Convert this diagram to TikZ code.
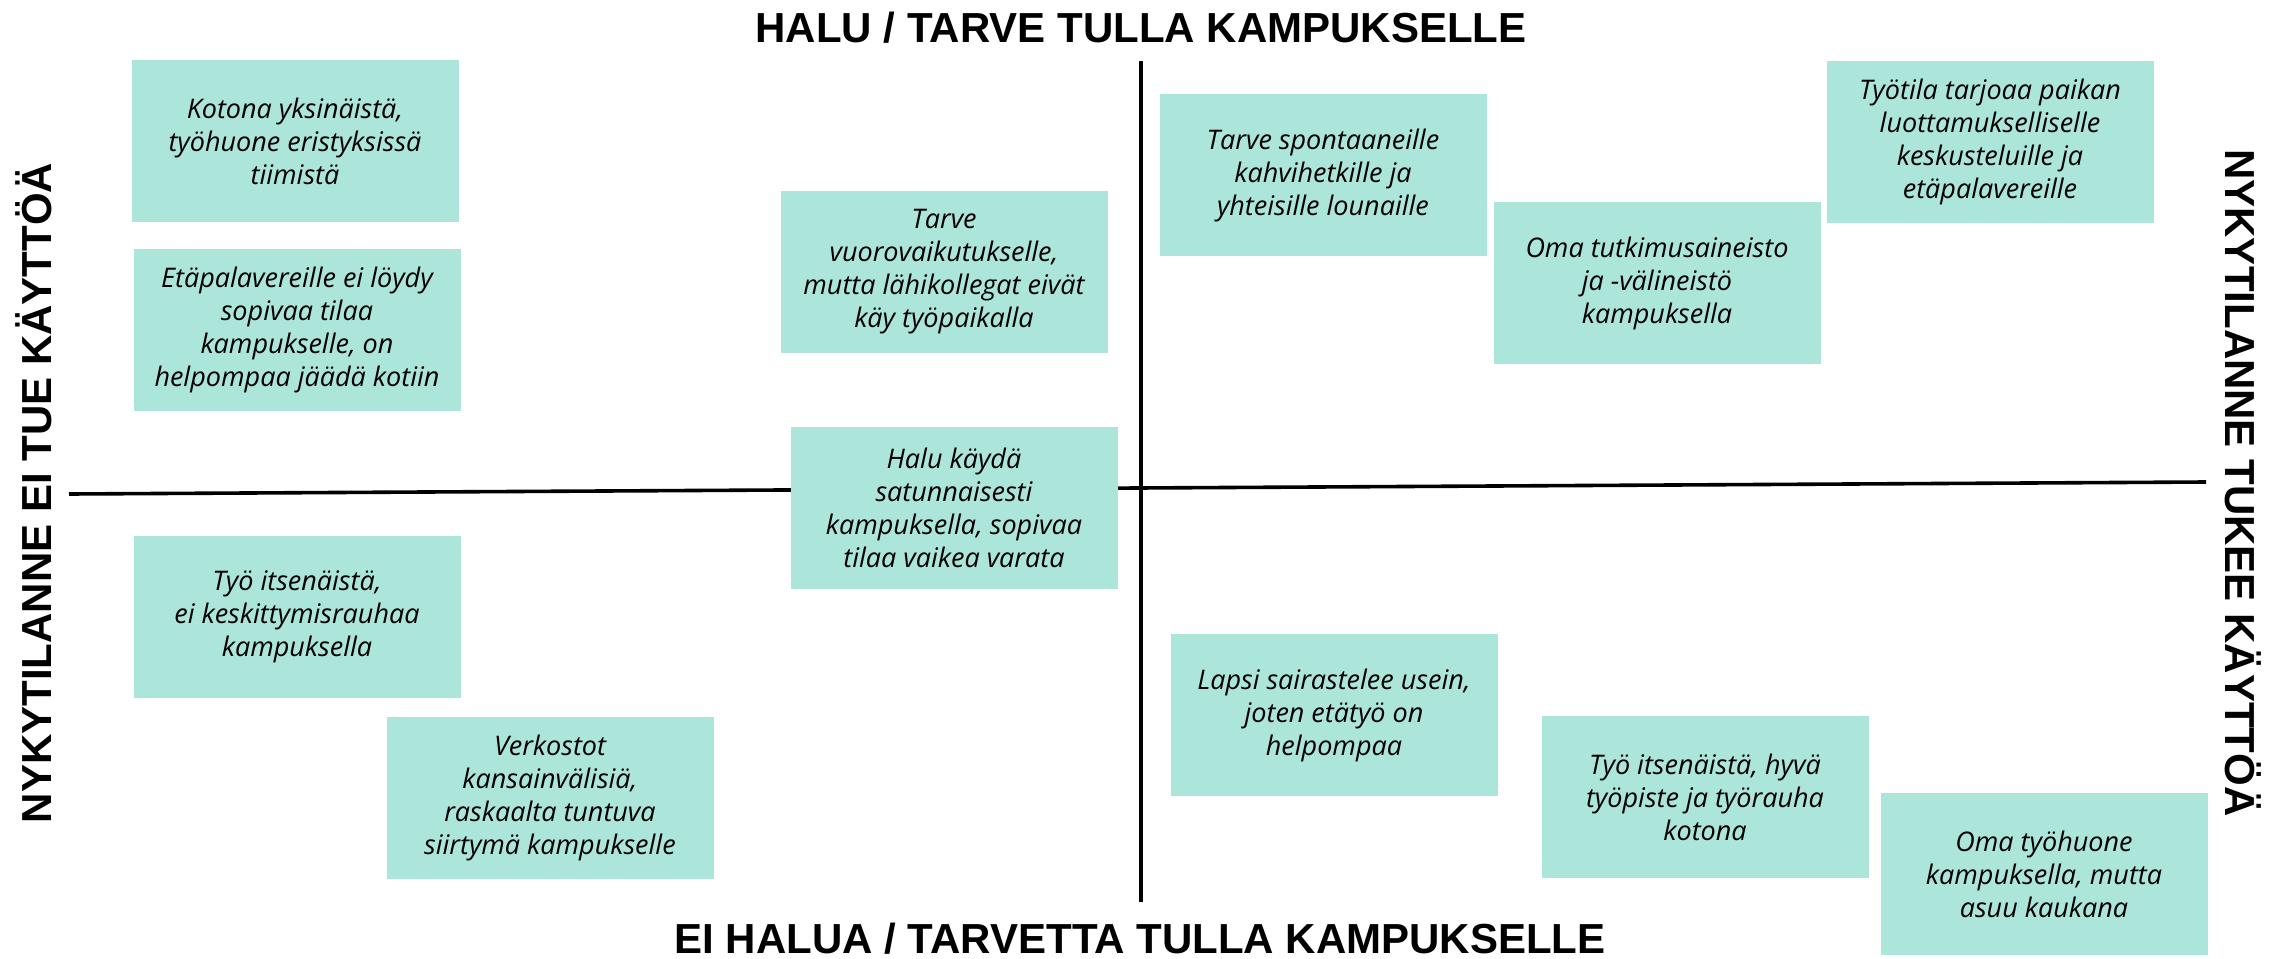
\documentclass[tikz,border=0pt]{standalone}
\usepackage{fontspec}
\newfontfamily\notefont{Open Sans}
\newfontfamily\axisfont{Liberation Sans}
\definecolor{notefill}{RGB}{172,229,218}

\begin{document}
\begin{tikzpicture}[
  x=1pt,y=-1pt,
  axis/.style={line width=3.6pt},
  % Sticky notes: one teal rectangle per answer, text centred line by line.
  note/.style={fill=notefill,minimum width=327pt,minimum height=162pt,
    inner sep=0pt,align=center,
    font=\notefont\itshape\fontsize{27}{33}\selectfont},
  axlbl/.style={font=\axisfont\bfseries\fontsize{42}{50}\selectfont,
    anchor=base,inner sep=0pt},
]
\useasboundingbox (0,0) rectangle (2282,958);

%--- geometry ----------------------------------------------------------------
\def\midx{1141}        % the vertical axis
\def\axtop{61}         % top end of the vertical axis
\def\axbot{902}        % bottom end of the vertical axis
\def\axL{69}           % left end of the horizontal axis
\def\axR{2206}         % right end of the horizontal axis
\def\axLy{494}         % height of the horizontal axis at its left end
\def\axRy{482}         % height of the horizontal axis at its right end

%--- axes ----------------------------------------------------------------------
\coordinate (vtop) at (\midx,\axtop);
\coordinate (vbot) at (\midx,\axbot);
\coordinate (hleft) at (\axL,\axLy);
\coordinate (hright) at (\axR,\axRy);
\draw[axis] (vtop) -- (vbot);
\draw[axis] (hleft) -- (hright);

\node[axlbl] (want) at (1141,43) {HALU / TARVE TULLA KAMPUKSELLE};
\node[axlbl] (nowant) at (1140,953) {EI HALUA / TARVETTA TULLA KAMPUKSELLE};
\node[axlbl,rotate=90] (hinder) at (51,493) {NYKYTILANNE EI TUE KÄYTTÖÄ};
\node[axlbl,rotate=-90] (support) at (2225,483) {NYKYTILANNE TUKEE KÄYTTÖÄ};

%--- left half: current situation does not support coming in -------------------
\node[note] (kotona) at (295,141) {Kotona yksinäistä,\\työhuone eristyksissä\\tiimistä};
\node[note] (etapala) at (297,330) {Etäpalavereille ei löydy\\sopivaa tilaa\\kampukselle, on\\helpompaa jäädä kotiin};
\node[note] (vuoro) at (944,272) {Tarve\\vuorovaikutukselle,\\mutta lähikollegat eivät\\käy työpaikalla};
\node[note] (satunn) at (954,508) {Halu käydä\\satunnaisesti\\kampuksella, sopivaa\\tilaa vaikea varata};
\node[note] (itsen) at (297,617) {Työ itsenäistä,\\ei keskittymisrauhaa\\kampuksella};
\node[note] (verkost) at (550,798) {Verkostot\\kansainvälisiä,\\raskaalta tuntuva\\siirtymä kampukselle};

%--- right half: current situation supports coming in ---------------------------
\node[note] (kahvi) at (1323,175) {Tarve spontaaneille\\kahvihetkille ja\\yhteisille lounaille};
\node[note] (aineisto) at (1657,283) {Oma tutkimusaineisto\\ja -välineistö\\kampuksella};
\node[note] (tyotila) at (1990,142) {Työtila tarjoaa paikan\\luottamukselliselle\\keskusteluille ja\\etäpalavereille};
\node[note] (lapsi) at (1334,715) {Lapsi sairastelee usein,\\joten etätyö on\\helpompaa};
\node[note] (tyorauha) at (1705,797) {Työ itsenäistä, hyvä\\työpiste ja työrauha\\kotona};
\node[note] (tyohuone) at (2044,874) {Oma työhuone\\kampuksella, mutta\\asuu kaukana};

\end{tikzpicture}
\end{document}
